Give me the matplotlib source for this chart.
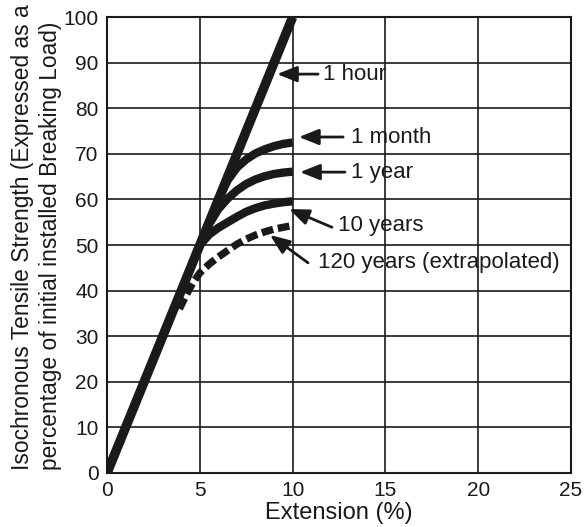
import matplotlib.pyplot as plt

plt.rcParams['font.family'] = ['Liberation Sans', 'DejaVu Sans']

# 1 hour - straight line
hour_x = [0, 10]
hour_y = [0, 100]

month_x = [6.0, 6.5, 7.0, 7.5, 8.0, 8.5, 9.0, 9.5, 10.0]
month_y = [60.0, 64.2, 67.0, 68.8, 70.1, 71.0, 71.7, 72.2, 72.5]

year_x = [5.0, 5.5, 6.0, 6.5, 7.0, 7.5, 8.0, 8.5, 9.0, 9.5, 10.0]
year_y = [50.0, 54.6, 57.9, 60.2, 62.0, 63.4, 64.4, 65.1, 65.6, 65.9, 66.1]

ten_x = [4.5, 5.0, 5.5, 6.0, 6.5, 7.0, 7.5, 8.0, 8.5, 9.0, 9.5, 10.0]
ten_y = [45.0, 50.0, 52.3, 53.8, 55.0, 56.2, 57.3, 58.1, 58.7, 59.1, 59.4, 59.6]

ext_x = [3.9, 4.2, 4.6, 5.0, 5.5, 6.0, 6.5, 7.0, 7.5, 8.0, 8.5, 9.0, 9.5, 10.0]
ext_y = [36.0, 38.5, 41.6, 43.9, 45.8, 47.4, 48.8, 50.2, 51.3, 52.2, 52.9, 53.5, 53.9, 54.3]

# labels: text, arrow tip, arrow tail, text anchor
labels = ['1 hour', '1 month', '1 year', '10 years', '120 years (extrapolated)']
tips = [(9.16, 87.5), (10.34, 73.7), (10.40, 66.0), (9.81, 57.9), (8.78, 52.2)]
tails = [(11.37, 87.5), (12.72, 73.7), (12.82, 66.0), (12.12, 53.9), (10.83, 46.1)]
text_pos = [(11.64, 87.5), (13.15, 73.7), (13.15, 66.0), (12.45, 54.2), (11.37, 46.1)]

fig = plt.figure(figsize=(5.85, 5.27), dpi=100)
ax = fig.add_axes([0.183, 0.1025, 0.793, 0.865])

ax.plot(hour_x, hour_y, color='#1a1a1a', lw=6.8, solid_capstyle='butt')
ax.plot(month_x, month_y, color='#1a1a1a', lw=6.0, solid_capstyle='butt')
ax.plot(year_x, year_y, color='#1a1a1a', lw=6.0, solid_capstyle='butt')
ax.plot(ten_x, ten_y, color='#1a1a1a', lw=6.0, solid_capstyle='butt')
ax.plot(ext_x, ext_y, color='#1a1a1a', lw=5.3, dashes=(1.6, 0.65), dash_capstyle='butt')

for lab, tip, tail, tp in zip(labels, tips, tails, text_pos):
    ax.annotate('', xy=tip, xytext=tail,
                arrowprops=dict(arrowstyle='-|>,head_length=0.6,head_width=0.24',
                                mutation_scale=20, lw=2, color='#1a1a1a',
                                shrinkA=0, shrinkB=0))
    ax.text(tp[0], tp[1], lab, fontsize=16, va='center', ha='left', color='#1a1a1a')

ax.set_xlim(0, 25)
ax.set_ylim(0, 100)
ax.set_xticks([0, 5, 10, 15, 20, 25])
ax.set_yticks(range(0, 101, 10))
ax.tick_params(length=0, labelsize=15, colors='#1a1a1a')
ax.tick_params(axis='x', pad=6)
ax.tick_params(axis='y', pad=6)
ax.grid(True, color='#1a1a1a', lw=1.2)
ax.set_axisbelow(True)
for s in ax.spines.values():
    s.set_linewidth(1.5)
    s.set_color('#1a1a1a')

ax.set_xlabel('Extension (%)', fontsize=17, labelpad=1, color='#1a1a1a')
ax.text(-0.152, 0.007,
        'Isochronous Tensile Strength (Expressed as a\npercentage of initial installed Breaking Load)',
        transform=ax.transAxes, rotation=90, fontsize=16.4, ha='center', va='bottom',
        multialignment='left', linespacing=1.3, color='#1a1a1a')

plt.savefig('out.png', dpi=100)
